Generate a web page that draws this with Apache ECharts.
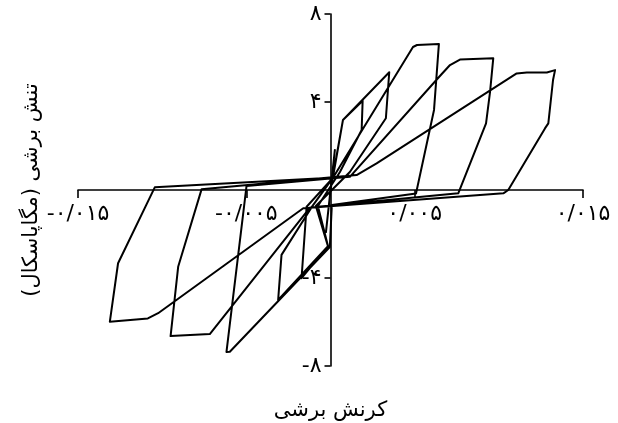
<!DOCTYPE html>
<html>
<head>
<meta charset="utf-8">
<script src="https://cdn.jsdelivr.net/npm/echarts@6/dist/echarts.min.js"></script>
<style>
  html, body { margin: 0; padding: 0; background: #fff; }
  #chart { width: 618px; height: 423px; }
</style>
</head>
<body>
<div id="chart"></div>
<script>
// Cyclic shear test: strain (x) and shear stress in MPa (y), in loading order
const strain = [
  0, 0.00026, -0.00027, 0,
  0.00074, 0.00191, 0.00185, 0.00056, -0.00075, -0.00015, -0.00172, -0.00142, 0.00014,
  0.00074, 0.00349, 0.00329, 0.00115, -0.00087, -0.00015, -0.00311, -0.00291, -0.00111, 0.00014,
  0.0049, 0.00514, 0.00644, 0.00615, 0.00508, 0.00008, -0.00004, -0.00598, -0.00618, -0.00499, 0.00115,
  0.0065, 0.0071, 0.00769, 0.00967, 0.00948, 0.00924, 0.00759, -0.00122, -0.00717, -0.0095, -0.00905, -0.00766, 0.00155,
  0.00274, 0.01106, 0.01166, 0.01285, 0.01334, 0.01322, 0.01294, 0.01274, 0.01056, 0.01027, -0.00162, -0.01024, -0.01085, -0.01311, -0.01262, -0.01044, 0.00086
];
const stress = [
  0, 1.82, -1.91, 0,
  3.18, 4.06, 2.73, 0.82, -0.73, -2.55, -4.01, -0.76, 0.55,
  3.18, 5.35, 3.26, 0.82, -0.73, -2.55, -5.0, -2.95, -0.77, 0.55,
  6.5, 6.59, 6.64, 3.64, -0.16, -0.68, -2.59, -7.35, -7.36, 0.18, 0.60,
  5.18, 5.68, 5.93, 5.99, 4.47, 3.03, -0.15, -0.80, -6.55, -6.64, -3.49, 0.03, 0.68,
  1.21, 5.30, 5.34, 5.34, 5.45, 5.0, 3.03, 2.80, 0, -0.15, -0.83, -5.60, -5.84, -5.99, -3.33, 0.12, 0.59
];

// Tick positions and their Persian labels
const xTicks = [-0.015, -0.005, 0.005, 0.015];
const xTickLabels = ['-۰/۰۱۵', '-۰/۰۰۵', '۰/۰۰۵', '۰/۰۱۵'];
const yTicks = [-8, -4, 4, 8];
const yTickLabels = ['-۸', '-۴', '۴', '۸'];

const xTitle = 'کرنش برشی';
const yTitle = 'تنش برشی (مگاپاسکال)\u200F';

const points = strain.map((s, i) => [s, stress[i]]);

function lookup(ticks, labels, v) {
  for (let i = 0; i < ticks.length; i++) {
    if (Math.abs(ticks[i] - v) < 1e-9) return labels[i];
  }
  return '';
}

// Plot box; the axes are shifted inward so they cross at the origin
const G = { left: 78, right: 35, top: 14, bottom: 57, w: 618, h: 423 };
const plotW = G.w - G.left - G.right;
const plotH = G.h - G.top - G.bottom;
const xMin = -0.015, xMax = 0.015, yMin = -8, yMax = 8;
const xAxisShift = -plotH * (0 - yMin) / (yMax - yMin);
const yAxisShift = -plotW * (0 - xMin) / (xMax - xMin);

const FONT = '"DejaVu Sans", sans-serif';
const chart = echarts.init(document.getElementById('chart'), null, { renderer: 'canvas' });

chart.setOption({
  animation: false,
  backgroundColor: '#fff',
  grid: { left: G.left, right: G.right, top: G.top, bottom: G.bottom, containLabel: false, outerBoundsMode: 'none' },
  xAxis: {
    type: 'value',
    min: xMin,
    max: xMax,
    position: 'bottom',
    offset: xAxisShift,
    name: xTitle,
    nameLocation: 'middle',
    nameGap: 210,
    nameTextStyle: { color: '#000', fontSize: 21, fontFamily: FONT },
    axisLine: { onZero: false, lineStyle: { color: '#000', width: 1.6 } },
    axisTick: { show: true, inside: false, length: 8, customValues: xTicks, lineStyle: { color: '#000', width: 1.6 } },
    axisLabel: {
      customValues: xTicks,
      margin: 13,
      color: '#000',
      fontSize: 22,
      fontFamily: FONT,
      formatter: v => lookup(xTicks, xTickLabels, v)
    },
    splitLine: { show: false }
  },
  yAxis: {
    type: 'value',
    min: yMin,
    max: yMax,
    interval: 4,
    position: 'left',
    offset: yAxisShift,
    name: yTitle,
    nameLocation: 'middle',
    nameGap: 288,
    nameRotate: 90,
    nameTextStyle: { color: '#000', fontSize: 21, fontFamily: FONT },
    axisLine: { onZero: false, lineStyle: { color: '#000', width: 1.6 } },
    axisTick: { show: true, inside: false, length: 6, customValues: yTicks, lineStyle: { color: '#000', width: 1.6 } },
    axisLabel: {
      customValues: yTicks,
      margin: 9,
      color: '#000',
      fontSize: 22,
      fontFamily: FONT,
      formatter: v => lookup(yTicks, yTickLabels, v)
    },
    splitLine: { show: false }
  },
  series: [{
    type: 'line',
    data: points,
    showSymbol: false,
    symbol: 'none',
    smooth: false,
    clip: false,
    lineStyle: { color: '#000', width: 2, join: 'round' }
  }]
});
</script>
</body>
</html>
